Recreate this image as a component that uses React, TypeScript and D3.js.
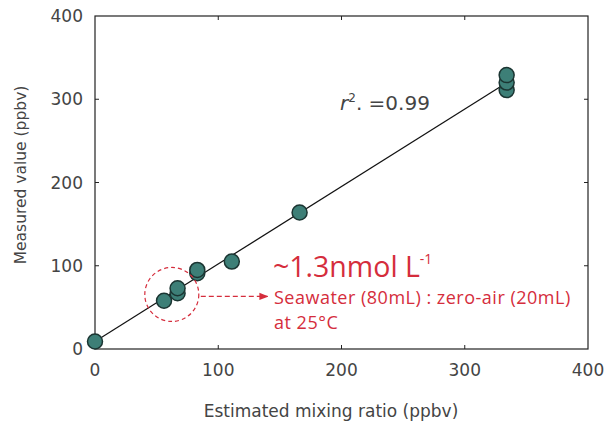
import React from "react";
import * as d3 from "d3";

// estimated mixing ratio (ppbv) vs measured value (ppbv)
const estimated = [0, 56, 67, 67, 83, 83, 111, 166, 334, 334, 334];
const measured = [9, 58, 67, 73, 91, 95, 105, 164, 311, 320, 329];
const xTicks = [0, 100, 200, 300, 400];
const yTicks = [0, 100, 200, 300, 400];
const rSquared = "0.99";
const concLabel = "~1.3nmol L";
const condLine1 = "Seawater (80mL) : zero-air (20mL)";
const condLine2 = "at 25°C";
// circled group (the ~1.3 nmol/L samples)
const circledX = [56, 67];
const circledY = [58, 73];

const W = 607;
const H = 424;
const margin = { left: 95, right: 19, top: 16, bottom: 75 };
const RED = "#d52d3c";

function fit(xs: number[], ys: number[]) {
  const mx = d3.mean(xs)!;
  const my = d3.mean(ys)!;
  let sxy = 0;
  let sxx = 0;
  xs.forEach((x, i) => {
    sxy += (x - mx) * (ys[i] - my);
    sxx += (x - mx) * (x - mx);
  });
  const slope = sxy / sxx;
  return { slope, intercept: my - slope * mx };
}

export default function App() {
  const x = d3.scaleLinear().domain([0, 400]).range([margin.left, W - margin.right]);
  const y = d3.scaleLinear().domain([0, 400]).range([H - margin.bottom, margin.top]);
  const { slope, intercept } = fit(estimated, measured);
  const [x0, x1] = d3.extent(estimated) as [number, number];
  const fitLine = d3.line<number>()
    .x((d) => x(d))
    .y((d) => y(slope * d + intercept))([x0, x1]);

  const cx = x(d3.mean(circledX)!) + 1;
  const cy = y(d3.mean(circledY)!);
  const tick = 4;
  const axisFont = "'DejaVu Sans', Verdana, sans-serif";
  const noteFont = "'Open Sans', 'Noto Sans', sans-serif";

  return (
    <svg width={W} height={H} style={{ position: "absolute", left: 0, top: 0, background: "#fff" }}>
      <defs>
        <marker id="arrow" viewBox="0 0 10 10" refX="9" refY="5" markerWidth="7" markerHeight="7" orient="auto">
          <path d="M0,1 L10,5 L0,9 z" fill={RED} />
        </marker>
      </defs>

      {/* frame */}
      <rect
        x={x(0)}
        y={y(400)}
        width={x(400) - x(0)}
        height={y(0) - y(400)}
        fill="none"
        stroke="#222"
        strokeWidth={1.2}
      />
      {xTicks.slice(1, -1).map((t) => (
        <g key={"xt" + t}>
          <line x1={x(t)} x2={x(t)} y1={y(0)} y2={y(0) - tick} stroke="#222" />
          <line x1={x(t)} x2={x(t)} y1={y(400)} y2={y(400) + tick} stroke="#222" />
        </g>
      ))}
      {yTicks.slice(1, -1).map((t) => (
        <g key={"yt" + t}>
          <line x1={x(0)} x2={x(0) + tick} y1={y(t)} y2={y(t)} stroke="#222" />
          <line x1={x(400)} x2={x(400) - tick} y1={y(t)} y2={y(t)} stroke="#222" />
        </g>
      ))}

      {/* tick labels */}
      <g fontFamily={axisFont} fontSize={17} fill="#444">
        {xTicks.map((t) => (
          <text key={"xl" + t} x={x(t)} y={y(0) + 27} textAnchor="middle">
            {t}
          </text>
        ))}
        {yTicks.map((t) => (
          <text key={"yl" + t} x={x(0) - 12} y={y(t) + 6} textAnchor="end">
            {t}
          </text>
        ))}
        <text x={x(0) + 236} y={417} textAnchor="middle">
          Estimated mixing ratio (ppbv)
        </text>
        <text
          transform={`translate(26,${175}) rotate(-90)`}
          textAnchor="middle"
          fontSize={15.5}
        >
          Measured value (ppbv)
        </text>
      </g>

      {/* regression line */}
      <path d={fitLine ?? ""} fill="none" stroke="#111" strokeWidth={1.2} />

      {/* points */}
      {estimated.map((e, i) => (
        <circle
          key={i}
          cx={x(e)}
          cy={y(measured[i])}
          r={7.5}
          fill="#3d7f77"
          stroke="#1b3532"
          strokeWidth={1.5}
        />
      ))}

      {/* r squared */}
      <text x={340} y={110} fontFamily={axisFont} fontSize={20} fill="#444">
        <tspan fontStyle="italic">r</tspan>
        <tspan dy={-8} fontSize={12}>2</tspan>
        <tspan dy={8}>. =</tspan>
        <tspan>{rSquared}</tspan>
      </text>

      {/* annotation */}
      <circle cx={cx} cy={cy} r={27} fill="none" stroke={RED} strokeWidth={1.2} strokeDasharray="4 3" />
      <line
        x1={cx + 29}
        x2={x(140)}
        y1={cy + 2}
        y2={cy + 2}
        stroke={RED}
        strokeWidth={1.3}
        strokeDasharray="5 3"
        markerEnd="url(#arrow)"
      />
      <g fontFamily={noteFont} fill={RED}>
        <text x={273} y={276.5} fontSize={28.5}>
          {concLabel}
          <tspan dy={-13} fontSize={14}>-1</tspan>
        </text>
        <text x={274} y={304} fontSize={18} letterSpacing={0.5}>
          {condLine1}
        </text>
        <text x={274} y={329} fontSize={18} letterSpacing={0.5}>
          {condLine2}
        </text>
      </g>
    </svg>
  );
}
